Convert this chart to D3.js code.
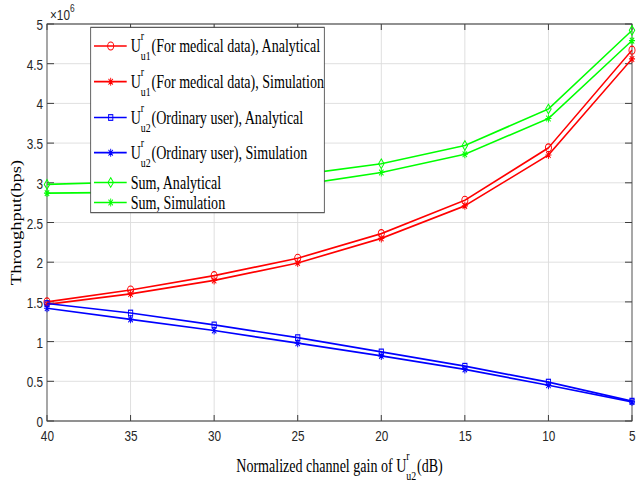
<!DOCTYPE html>
<html>
<head>
<meta charset="utf-8">
<script src="https://cdn.jsdelivr.net/npm/d3@7"></script>
<style>
  html, body { margin: 0; padding: 0; background: #fff; }
  svg { display: block; }
</style>
</head>
<body>
<div id="chart"></div>
<script>
// Normalized channel gain of U_u2^r (dB), plotted from 40 down to 5
const gains = [40, 35, 30, 25, 20, 15, 10, 5];

// Throughput in units of 1e6 bps
const u1Analytical = [1.50, 1.65, 1.83, 2.05, 2.36, 2.78, 3.44, 4.67];
const u1Simulation = [1.47, 1.60, 1.77, 1.99, 2.30, 2.71, 3.35, 4.56];
const u2Analytical = [1.48, 1.36, 1.21, 1.05, 0.87, 0.69, 0.49, 0.25];
const u2Simulation = [1.42, 1.28, 1.14, 0.98, 0.82, 0.65, 0.45, 0.24];
const sumAnalytical = [2.98, 3.01, 3.04, 3.10, 3.24, 3.47, 3.93, 4.92];
const sumSimulation = [2.87, 2.88, 2.91, 2.97, 3.13, 3.36, 3.81, 4.79];

const yTicks = [0, 0.5, 1, 1.5, 2, 2.5, 3, 3.5, 4, 4.5, 5];
const yTickLabels = ["0", "0.5", "1", "1.5", "2", "2.5", "3", "3.5", "4", "4.5", "5"];

const seriesDefs = [
  { values: u1Analytical, color: "#ff0000", marker: "circle", sup: "r", sub: "u1", text: "(For medical data), Analytical" },
  { values: u1Simulation, color: "#ff0000", marker: "star",   sup: "r", sub: "u1", text: "(For medical data), Simulation" },
  { values: u2Analytical, color: "#0000ff", marker: "square", sup: "r", sub: "u2", text: "(Ordinary user), Analytical" },
  { values: u2Simulation, color: "#0000ff", marker: "star",   sup: "r", sub: "u2", text: "(Ordinary user), Simulation" },
  { values: sumAnalytical, color: "#00ff00", marker: "diamond", text: "Sum, Analytical" },
  { values: sumSimulation, color: "#00ff00", marker: "star",    text: "Sum, Simulation" }
];

// The figure is laid out in a wider user space and compressed horizontally.
const K = 0.76;
const W = 638 / K, H = 481;
const X = v => v / K;

const serif = "'Liberation Serif', 'Times New Roman', serif";
const sans = "'Liberation Sans', Arial, Helvetica, sans-serif";
const axisColor = "#262626";

const svg = d3.select("#chart").append("svg")
  .attr("width", 638).attr("height", 481)
  .attr("viewBox", `0 0 ${W} ${H}`)
  .attr("preserveAspectRatio", "none");

const plot = { left: X(47), right: X(632), top: 24, bottom: 421 };

const x = d3.scalePoint().domain(gains).range([plot.left, plot.right]);
const y = d3.scaleLinear().domain([0, 5]).range([plot.bottom, plot.top]);

// Grid
const grid = svg.append("g");
grid.selectAll("line.gx").data(gains).join("line")
  .attr("x1", d => x(d)).attr("x2", d => x(d))
  .attr("y1", plot.top).attr("y2", plot.bottom)
  .attr("stroke", "#dcdcdc").attr("stroke-width", 1.2);
grid.selectAll("line.gy").data(yTicks).join("line")
  .attr("x1", plot.left).attr("x2", plot.right)
  .attr("y1", d => y(d)).attr("y2", d => y(d))
  .attr("stroke", "#dcdcdc").attr("stroke-width", 1);

// Axes: bottom and left with labels, top and right as box with inward ticks
const tickLenX = 6, tickLenY = X(7);
const xAxis = d3.axisBottom(x).tickSize(0).tickPadding(0).tickFormat(d => String(d));
const yAxis = d3.axisLeft(y).tickValues(yTicks).tickSize(0).tickPadding(0)
  .tickFormat((d, i) => yTickLabels[i]);

const gx = svg.append("g").attr("transform", `translate(0,${plot.bottom})`).call(xAxis);
gx.select(".domain").remove();
gx.selectAll("text").attr("y", 20).attr("dy", 0)
  .attr("font-family", sans).attr("font-size", 15.5).attr("fill", axisColor);

const gy = svg.append("g").attr("transform", `translate(${plot.left},0)`).call(yAxis);
gy.select(".domain").remove();
gy.selectAll("text").attr("x", X(43) - plot.left).attr("dy", "0.36em")
  .attr("text-anchor", "end")
  .attr("font-family", sans).attr("font-size", 15.5).attr("fill", axisColor);

const ticks = svg.append("g").attr("stroke", axisColor).attr("stroke-width", 1);
gains.forEach(g => {
  ticks.append("line").attr("x1", x(g)).attr("x2", x(g)).attr("y1", plot.bottom).attr("y2", plot.bottom - tickLenX);
  ticks.append("line").attr("x1", x(g)).attr("x2", x(g)).attr("y1", plot.top).attr("y2", plot.top + tickLenX);
});
yTicks.forEach(t => {
  ticks.append("line").attr("x1", plot.left).attr("x2", plot.left + tickLenY).attr("y1", y(t)).attr("y2", y(t));
  ticks.append("line").attr("x1", plot.right).attr("x2", plot.right - tickLenY).attr("y1", y(t)).attr("y2", y(t));
});

svg.append("rect")
  .attr("x", plot.left).attr("y", plot.top)
  .attr("width", plot.right - plot.left).attr("height", plot.bottom - plot.top)
  .attr("fill", "none").attr("stroke", "#444").attr("stroke-width", 1.1);

// Exponent label
const expo = svg.append("text").attr("x", X(50)).attr("y", 20)
  .attr("font-family", sans).attr("font-size", 15.5).attr("fill", axisColor);
expo.append("tspan").text("\u00d710");
expo.append("tspan").attr("font-size", 11).attr("dy", -8).text("6");

// Marker drawing
function drawMarker(g, type, cx, cy, color) {
  const sw = 1.2;
  if (type === "circle") {
    g.append("circle").attr("cx", cx).attr("cy", cy).attr("r", 4)
      .attr("fill", "none").attr("stroke", color).attr("stroke-width", sw);
  } else if (type === "square") {
    const s = 2.8;
    g.append("rect").attr("x", cx - s).attr("y", cy - s).attr("width", 2 * s).attr("height", 2 * s)
      .attr("fill", "none").attr("stroke", color).attr("stroke-width", sw);
  } else if (type === "diamond") {
    const a = 3.6, b = 4.8;
    g.append("path").attr("d", `M${cx},${cy - b}L${cx + a},${cy}L${cx},${cy + b}L${cx - a},${cy}Z`)
      .attr("fill", "none").attr("stroke", color).attr("stroke-width", sw);
  } else if (type === "star") {
    const r = 4, d = r * 0.72;
    g.append("path")
      .attr("d", `M${cx - r},${cy}L${cx + r},${cy}M${cx},${cy - r}L${cx},${cy + r}` +
                 `M${cx - d},${cy - d}L${cx + d},${cy + d}M${cx - d},${cy + d}L${cx + d},${cy - d}`)
      .attr("fill", "none").attr("stroke", color).attr("stroke-width", sw);
  }
}

// Data lines and markers
const line = d3.line().x((d, i) => x(gains[i])).y(d => y(d));
const dataG = svg.append("g");
seriesDefs.forEach(s => {
  dataG.append("path").datum(s.values).attr("d", line)
    .attr("fill", "none").attr("stroke", s.color).attr("stroke-width", 1.7)
    .attr("stroke-linejoin", "round");
  s.values.forEach((v, i) => drawMarker(dataG, s.marker, x(gains[i]), y(v), s.color));
});

// Label with a stacked superscript/subscript after a base letter
function richLabel(parent, base, sup, sub, rest, size, smallSize) {
  const g = parent.append("g");
  const t0 = g.append("text").attr("x", 0).attr("y", 0)
    .attr("font-family", serif).attr("font-size", size).attr("fill", "#000").text(base);
  let cx = t0.node().getComputedTextLength();
  if (sup || sub) {
    let w = 0;
    if (sup) {
      const ts = g.append("text").attr("x", cx).attr("y", -12)
        .attr("font-family", serif).attr("font-size", smallSize).attr("fill", "#000").text(sup);
      w = Math.max(w, ts.node().getComputedTextLength());
    }
    if (sub) {
      const tb = g.append("text").attr("x", cx).attr("y", 8)
        .attr("font-family", serif).attr("font-size", smallSize).attr("fill", "#000").text(sub);
      w = Math.max(w, tb.node().getComputedTextLength());
    }
    cx += w + 1;
  }
  let total = cx;
  if (rest) {
    const tr = g.append("text").attr("x", cx).attr("y", 0)
      .attr("font-family", serif).attr("font-size", size).attr("fill", "#000").text(rest);
    total += tr.node().getComputedTextLength();
  }
  return { g, width: total };
}

// Axis titles
const xl = richLabel(svg, "Normalized channel gain of U", "r", "u2", "(dB)", 18.5, 13);
xl.g.attr("transform", `translate(${(plot.left + plot.right) / 2 - xl.width / 2},472)`);

svg.append("text")
  .attr("transform", `translate(${X(20.5)},${(plot.top + plot.bottom) / 2}) rotate(-90)`)
  .attr("text-anchor", "middle")
  .attr("font-family", serif).attr("font-size", 18.5).attr("fill", "#000")
  .text("Throughput(bps)");

// Legend
const legend = svg.append("g");
legend.append("rect")
  .attr("x", X(90.7)).attr("y", 27.3)
  .attr("width", X(324.3) - X(90.7)).attr("height", 212.7 - 27.3)
  .attr("fill", "#fff").attr("stroke", "#333").attr("stroke-width", 1);

const rowY = [46, 81.7, 117.5, 152.7, 182.5, 202.5];
seriesDefs.forEach((s, i) => {
  const ry = rowY[i];
  legend.append("line")
    .attr("x1", X(94)).attr("x2", X(126.7)).attr("y1", ry).attr("y2", ry)
    .attr("stroke", s.color).attr("stroke-width", 1.7);
  drawMarker(legend, s.marker, X(110.7), ry, s.color);
  let lab;
  if (s.sup) {
    lab = richLabel(legend, "U", s.sup, s.sub, s.text, 18.5, 13);
  } else {
    lab = richLabel(legend, s.text, null, null, null, 18.5, 13);
  }
  lab.g.attr("transform", `translate(${X(130.7)},${ry + 6})`);
});
</script>
</body>
</html>
